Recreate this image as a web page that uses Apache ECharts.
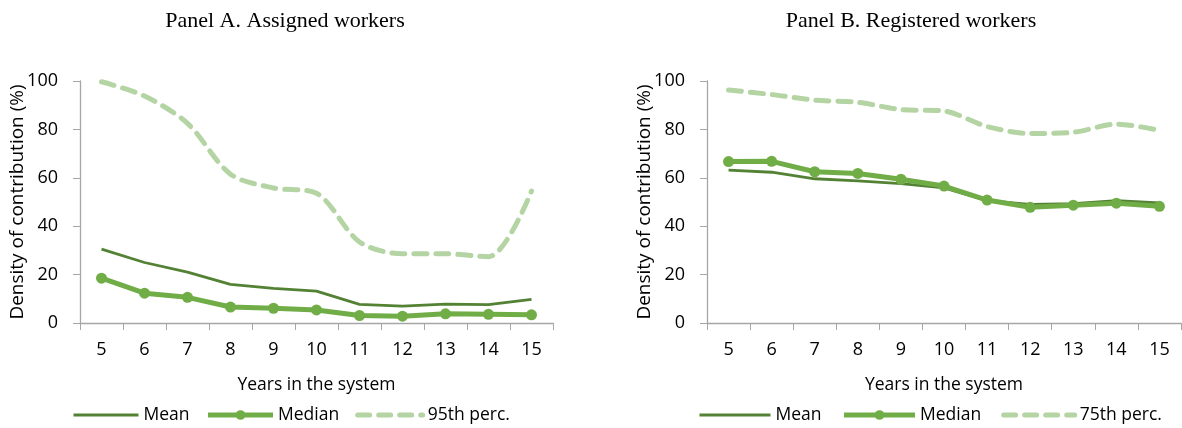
<!DOCTYPE html>
<html><head><meta charset="utf-8">
<script src="https://cdn.jsdelivr.net/npm/echarts@6/dist/echarts.min.js"></script>
<style>html,body{margin:0;padding:0;background:#fff}#c{width:1182px;height:428px}</style>
</head><body><div id="c"></div>
<script>
const years = ['5','6','7','8','9','10','11','12','13','14','15'];
const titleA = 'Panel A. Assigned workers';
const titleB = 'Panel B. Registered workers';
const meanA   = [30.5, 25.0, 21.0, 16.0, 14.3, 13.2, 7.7, 7.0, 7.8, 7.6, 9.8];
const medianA = [18.5, 12.3, 10.6, 6.6, 6.1, 5.4, 3.1, 2.8, 3.8, 3.6, 3.4];
const p95A    = [99.7, 93.8, 82.5, 61.5, 55.8, 53.6, 33.5, 28.6, 28.6, 27.4, 54.5];
const meanB   = [63.2, 62.3, 59.6, 58.7, 57.6, 55.8, 50.6, 49.0, 49.3, 50.6, 49.6];
const medianB = [66.7, 66.8, 62.5, 61.8, 59.4, 56.6, 50.8, 47.8, 48.7, 49.5, 48.2];
const p75B    = [96.3, 94.4, 92.1, 91.2, 88.2, 87.6, 81.2, 78.3, 78.8, 82.2, 79.6];
const yTicks = [0, 20, 40, 60, 80, 100];

const cMean = '#548235', cMed = '#70ad47', cPct = '#b4d4a4';
const font = 'Open Sans, Noto Sans, sans-serif';
const dash = [12, 9];
const chart = echarts.init(document.getElementById('c'), null, {renderer:'canvas'});

function xAxis(i){
  return {gridIndex:i, type:'category', data:years, boundaryGap:true,
    name:'Years in the system', nameLocation:'middle', nameGap:53,
    nameTextStyle:{color:'#000', fontSize:17.5, fontFamily:font},
    axisLine:{lineStyle:{color:'#a6a6a6', width:1.3}},
    axisTick:{show:true, alignWithLabel:false, length:7, lineStyle:{color:'#a6a6a6'}},
    axisLabel:{color:'#000', fontSize:18, fontFamily:font, margin:18}};
}
function yAxis(i){
  return {gridIndex:i, type:'value', min:yTicks[0], max:yTicks[yTicks.length-1], interval:20,
    name:'Density of contribution (%)', nameLocation:'middle', nameGap:53, nameRotate:90,
    nameMoveOverlap:false,
    nameTextStyle:{color:'#000', fontSize:19, fontFamily:font},
    axisLine:{show:true, lineStyle:{color:'#a6a6a6', width:1.3}},
    axisTick:{show:true, length:7, lineStyle:{color:'#a6a6a6'}},
    splitLine:{show:false},
    axisLabel:{color:'#000', fontSize:18, fontFamily:font, margin:22}};
}
function series(i, mean, med, pct, pctName){
  return [
    {name:'Mean', type:'line', xAxisIndex:i, yAxisIndex:i, data:mean, symbol:'none',
      lineStyle:{color:cMean, width:2.8}, itemStyle:{color:cMean}, z:3},
    {name:'Median', type:'line', xAxisIndex:i, yAxisIndex:i, data:med, symbol:'circle', symbolSize:11,
      lineStyle:{color:cMed, width:5}, itemStyle:{color:cMed}, z:4},
    {name:pctName, type:'line', xAxisIndex:i, yAxisIndex:i, data:pct, symbol:'none', smooth:0.3,
      lineStyle:{color:cPct, width:5, type:[13,9], cap:'round'}, itemStyle:{color:cPct}, z:2}
  ];
}
function legendData(pctName){
  return [
    {name:'Mean', itemStyle:{opacity:0}, lineStyle:{color:cMean, width:3}},
    {name:'Median', itemStyle:{color:cMed}, lineStyle:{color:cMed, width:5}},
    {name:pctName, itemStyle:{opacity:0}, lineStyle:{color:cPct, width:5, type:dash, cap:'round'}}
  ];
}
const titleStyle = {fontFamily:'Liberation Serif, serif', fontWeight:'normal', fontSize:22, color:'#000'};
chart.setOption({
  animation:false,
  title:[
    {text:titleA, left:280, top:5, textAlign:'center', textStyle:titleStyle},
    {text:titleB, left:906, top:5, textAlign:'center', textStyle:titleStyle}
  ],
  grid:[
    {left:80, top:81, width:473, height:242, containLabel:false},
    {left:707, top:81, width:474, height:242, containLabel:false}
  ],
  xAxis:[xAxis(0), xAxis(1)],
  yAxis:[yAxis(0), yAxis(1)],
  legend:[
    {data:legendData('95th perc.'), left:67, top:401, itemWidth:65, itemHeight:12, itemGap:16,
      textStyle:{color:'#000', fontSize:17.5, fontFamily:font}},
    {data:legendData('75th perc.'), left:693, top:401, itemWidth:71, itemHeight:12, itemGap:20,
      textStyle:{color:'#000', fontSize:17.5, fontFamily:font}}
  ],
  series:[].concat(series(0, meanA, medianA, p95A, '95th perc.'), series(1, meanB, medianB, p75B, '75th perc.'))
});
</script></body></html>
